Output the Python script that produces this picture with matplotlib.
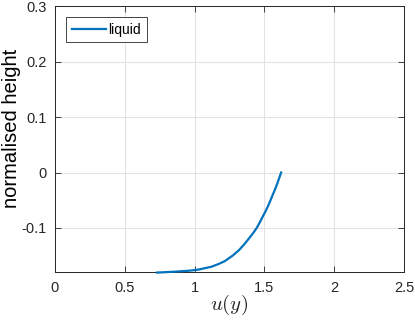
import matplotlib
matplotlib.use("Agg")
import matplotlib.pyplot as plt

# data
height = [0.0, -0.01, -0.02, -0.03, -0.04, -0.05, -0.06, -0.07, -0.08, -0.09, -0.10,
          -0.11, -0.12, -0.13, -0.14, -0.15, -0.16, -0.165, -0.17, -0.175, -0.177,
          -0.179, -0.1805]
u = [1.62, 1.606, 1.592, 1.577, 1.560, 1.544, 1.527, 1.508, 1.487, 1.467, 1.445,
     1.417, 1.386, 1.354, 1.318, 1.272, 1.215, 1.172, 1.12, 1.03, 0.967,
     0.85, 0.73]
xticks = [0, 0.5, 1, 1.5, 2, 2.5]
xticklabels = ["0", "0.5", "1", "1.5", "2", "2.5"]
yticks = [-0.1, 0, 0.1, 0.2, 0.3]
yticklabels = ["-0.1", "0", "0.1", "0.2", "0.3"]

plt.rcParams['font.family'] = ['Liberation Sans', 'DejaVu Sans']
plt.rcParams['mathtext.fontset'] = 'cm'
plt.rcParams['axes.unicode_minus'] = False

axc = '#262626'
fig = plt.figure(figsize=(4.15, 3.21), dpi=100)
ax = fig.add_axes([0.1325, 0.1517, 0.841, 0.829])
ax.plot(u, height, color='#0072BD', lw=1.6, label='liquid', clip_on=False, zorder=3,
        solid_joinstyle='round')
ax.set_xlim(0, 2.5)
ax.set_ylim(-0.18, 0.3)
ax.set_xticks(xticks)
ax.set_xticklabels(xticklabels)
ax.set_yticks(yticks)
ax.set_yticklabels(yticklabels)
ax.grid(True, color='#e3e3e3', lw=0.8)
ax.set_axisbelow(True)
ax.tick_params(direction='in', length=4, width=0.6, colors=axc, labelsize=10.5,
               top=True, right=True, pad=6)
for s in ax.spines.values():
    s.set_color(axc)
    s.set_linewidth(0.7)
ax.set_xlabel(r'$u(y)$', fontsize=15, color=axc, labelpad=-1)
ax.set_ylabel('normalised height', fontsize=14.5, color='black')
ax.yaxis.set_label_coords(-0.097, 0.542)
leg = ax.legend(loc='upper left', fancybox=False, edgecolor=axc, fontsize=10,
                handlelength=2.5, handletextpad=0.15, borderpad=0.4,
                borderaxespad=0, bbox_to_anchor=(0.032, 0.9587), framealpha=1)
leg.get_frame().set_linewidth(0.6)
fig.savefig('out.png', dpi=100)
